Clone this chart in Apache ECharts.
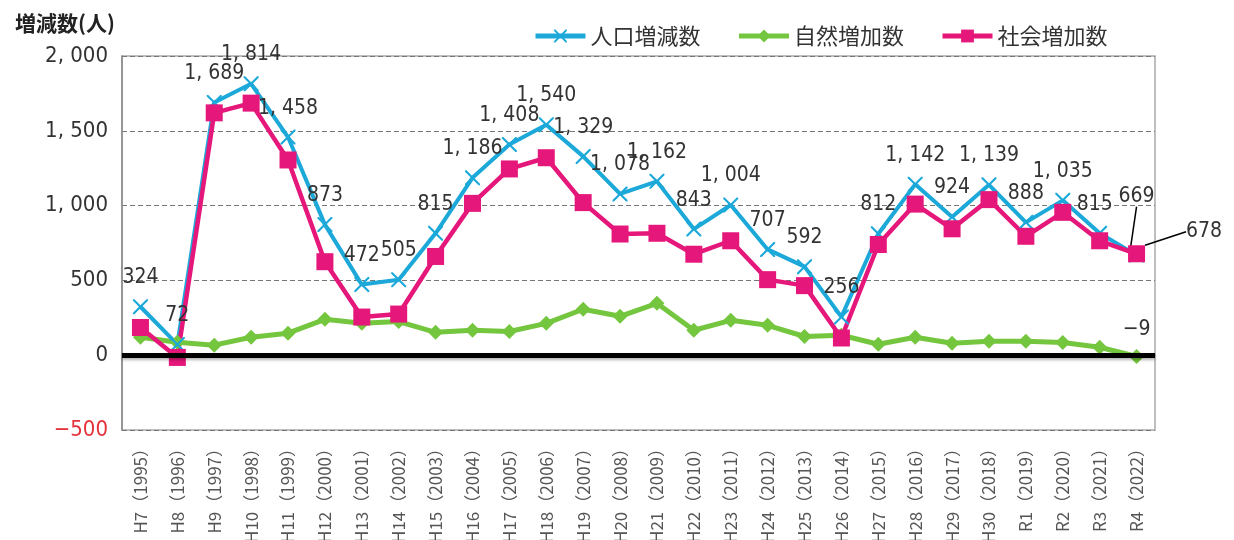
<!DOCTYPE html>
<html>
<head>
<meta charset="utf-8">
<script src="https://cdn.jsdelivr.net/npm/echarts@6/dist/echarts.min.js"></script>
<style>
  html, body { margin: 0; padding: 0; background: #fff; }
  #chart { width: 1234px; height: 540px; }
</style>
</head>
<body>
<div id="chart"></div>
<script>
// 年度
const categories = [
  'H7（1995）', 'H8（1996）', 'H9（1997）', 'H10（1998）', 'H11（1999）', 'H12（2000）', 'H13（2001）',
  'H14（2002）', 'H15（2003）', 'H16（2004）', 'H17（2005）', 'H18（2006）', 'H19（2007）', 'H20（2008）',
  'H21（2009）', 'H22（2010）', 'H23（2011）', 'H24（2012）', 'H25（2013）', 'H26（2014）', 'H27（2015）',
  'H28（2016）', 'H29（2017）', 'H30（2018）', 'R1（2019）', 'R2（2020）', 'R3（2021）', 'R4（2022）'
]

// 人口増減数
const totalChange = [
  324, 72, 1689, 1814, 1458, 873, 472, 505, 815, 1186, 1408, 1540, 1329, 1078,
  1162, 843, 1004, 707, 592, 256, 812, 1142, 924, 1139, 888, 1035, 815, 669
]

// 自然増加数
const naturalChange = [
  120, 87, 67, 120, 147, 240, 213, 225, 153, 167, 158, 213, 307, 260,
  347, 167, 233, 200, 125, 133, 73, 120, 80, 93, 93, 85, 53, -9
]

// 社会増加数
const socialChange = [
  185, -15, 1620, 1685, 1305, 625, 255, 275, 660, 1015, 1245, 1320, 1020, 810,
  815, 675, 765, 505, 465, 115, 740, 1010, 845, 1040, 795, 955, 765, 678
]

const yMin = -500
const yMax = 2000
const yStep = 500

const numFont = "'Liberation Sans Narrow', 'DejaVu Sans Condensed', 'Liberation Sans', sans-serif"
const jpFont = "'Noto Sans CJK JP', 'Noto Sans', sans-serif"

const BLUE = '#1ca9d9'
const GREEN = '#74c63e'
const PINK = '#e6177a'

// 3桁区切り「1, 814」
const fmt = (v) => {
  const n = Number(v)
  const a = Math.abs(n)
  let s = String(a)
  if (a >= 1000) {
    s = Math.floor(a / 1000) + ', ' + String(a % 1000).padStart(3, '0')
  }
  return (n < 0 ? '−' : '') + s
}

const last = categories.length - 1
const crossPath = 'path://M0,0 L2,0 L10,8 L18,0 L20,0 L20,2 L12,10 L20,18 L20,20 L18,20 L10,12 L2,20 L0,20 L0,18 L8,10 L0,2 Z'

const chart = echarts.init(document.getElementById('chart'))

const option = {
  animation: false,
  title: {
    text: '増減数(人)',
    left: 10,
    top: 8,
    textStyle: { fontFamily: jpFont, fontSize: 21, fontWeight: 'bold', color: '#222' }
  },
  legend: {
    data: ['人口増減数', '自然増加数', '社会増加数'],
    left: 528,
    top: 20,
    itemWidth: 50,
    itemHeight: 16,
    itemGap: 36,
    lineStyle: { width: 5 },
    textStyle: { fontFamily: jpFont, fontSize: 22, color: '#333' }
  },
  grid: {
    left: 122,
    right: 79,
    top: 56,
    bottom: 110,
    containLabel: false,
    outerBoundsMode: 'none',
    show: true,
    borderColor: '#aaa',
    borderWidth: 1.5
  },
  xAxis: {
    type: 'category',
    data: categories,
    boundaryGap: true,
    axisLine: { lineStyle: { color: '#888', width: 1.5 } },
    axisTick: { alignWithLabel: true, inside: true, length: 5, lineStyle: { color: '#888' } },
    axisLabel: {
      interval: 0,
      rotate: 90,
      margin: 10,
      fontFamily: jpFont,
      fontSize: 17,
      color: '#555'
    },
    splitLine: { show: false }
  },
  yAxis: {
    type: 'value',
    min: yMin,
    max: yMax,
    interval: yStep,
    axisLine: { show: true, lineStyle: { color: '#888', width: 1.5 } },
    axisTick: { show: false },
    axisLabel: {
      margin: 14,
      fontFamily: numFont,
      fontSize: 22,
      formatter: fmt,
      color: (v) => (Number(v) < 0 ? '#e5323b' : '#333')
    },
    splitLine: { lineStyle: { color: '#777', width: 1.2, type: [5, 3] } }
  },
  series: [
    {
      name: '自然増加数',
      type: 'line',
      data: naturalChange.map((v, i) => (i === last ? { value: v, label: { show: true } } : v)),
      symbol: 'diamond',
      symbolSize: 15,
      lineStyle: { color: GREEN, width: 5 },
      itemStyle: { color: GREEN },
      label: {
        show: false,
        position: 'top',
        distance: 9,
        formatter: (p) => fmt(p.value),
        fontFamily: numFont,
        fontSize: 21,
        color: '#333'
      },
      markLine: {
        silent: true,
        symbol: 'none',
        label: { show: false },
        lineStyle: {
          color: '#000',
          width: 5,
          type: 'solid',
          shadowColor: 'rgba(0,0,0,0.3)',
          shadowBlur: 3,
          shadowOffsetY: 2
        },
        data: [{ yAxis: 0 }]
      }
    },
    {
      name: '人口増減数',
      type: 'line',
      data: totalChange.map((v, i) =>
        i === last
          ? { value: v, labelLine: { show: true, lineStyle: { color: '#000', width: 1.5 } } }
          : v
      ),
      symbol: crossPath,
      symbolSize: 15,
      lineStyle: { color: BLUE, width: 4 },
      itemStyle: { color: BLUE },
      label: {
        show: true,
        position: 'top',
        distance: 11,
        formatter: (p) => fmt(p.value),
        fontFamily: numFont,
        fontSize: 21,
        color: '#333'
      },
      labelLine: { show: false },
      labelLayout: (p) => {
        if (p.dataIndex === last) return { dy: -30 }
        if (p.dataIndex === last - 1) return { dx: -5 }
        return {}
      }
    },
    {
      name: '社会増加数',
      type: 'line',
      data: socialChange.map((v, i) => (i === last ? { value: v, label: { show: true } } : v)),
      symbol: 'rect',
      symbolSize: 17,
      lineStyle: { color: PINK, width: 4.5 },
      itemStyle: { color: PINK },
      label: {
        show: false,
        position: 'right',
        distance: 5,
        formatter: (p) => fmt(p.value),
        fontFamily: numFont,
        fontSize: 21,
        color: '#333'
      },
      labelLine: { show: true, lineStyle: { color: '#000', width: 1.5 } },
      labelLayout: (p) => (p.dataIndex === last ? { dx: 36, dy: -22 } : {})
    }
  ]
}

chart.setOption(option)
</script>
</body>
</html>
